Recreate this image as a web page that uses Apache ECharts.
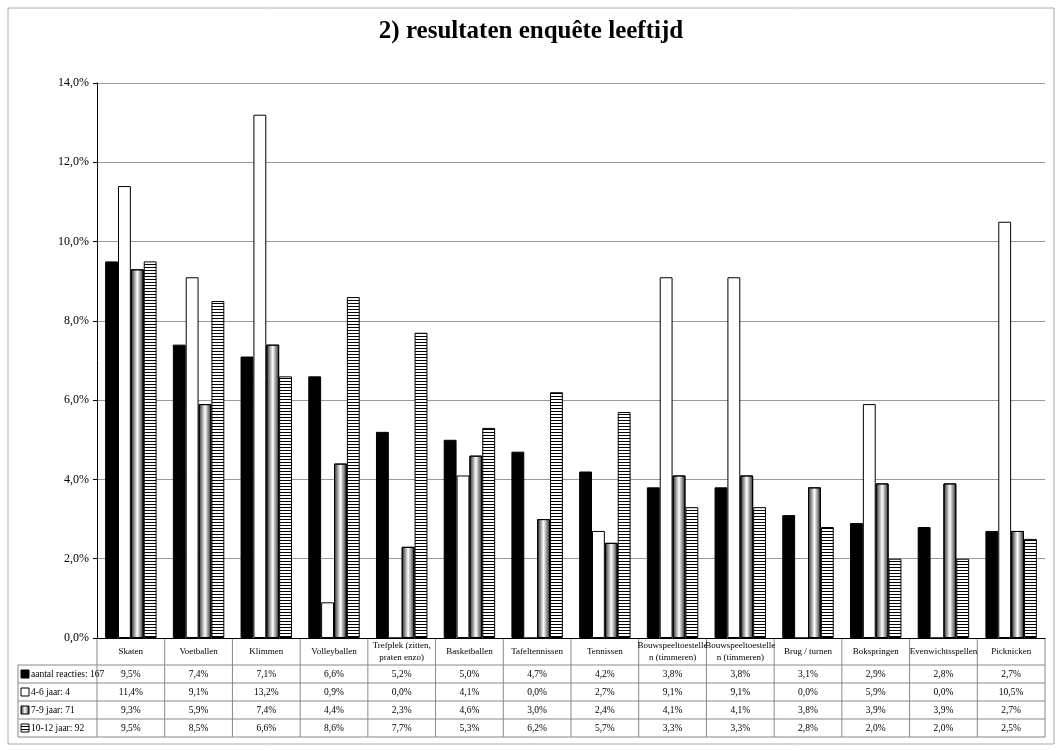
<!DOCTYPE html><html><head><meta charset="utf-8"><script src="https://cdn.jsdelivr.net/npm/echarts@6/dist/echarts.min.js"></script>
<style>body{margin:0;background:#fff}#c{width:1062px;height:751px}</style></head><body><div id="c"></div><script>
const categories=["Skaten","Voetballen","Klimmen","Volleyballen","Trefplek (zitten,\npraten enzo)","Basketballen","Tafeltennissen","Tennissen","Bouwspeeltoestelle\nn (timmeren)","Bouwspeeltoestelle\nn (timmeren)","Brug / turnen","Bokspringen","Evenwichtsspellen","Picknicken"];
const seriesNames=["aantal reacties: 167","4-6 jaar: 4","7-9 jaar: 71","10-12 jaar: 92"];
const sAll=[9.5,7.4,7.1,6.6,5.2,5.0,4.7,4.2,3.8,3.8,3.1,2.9,2.8,2.7];
const s46=[11.4,9.1,13.2,0.9,0.0,4.1,0.0,2.7,9.1,9.1,0.0,5.9,0.0,10.5];
const s79=[9.3,5.9,7.4,4.4,2.3,4.6,3.0,2.4,4.1,4.1,3.8,3.9,3.9,2.7];
const s1012=[9.5,8.5,6.6,8.6,7.7,5.3,6.2,5.7,3.3,3.3,2.8,2.0,2.0,2.5];
const yTicks={min:0,max:14,interval:2};
const data=[sAll,s46,s79,s1012];
const F='Liberation Serif';
const pc=document.createElement('canvas');pc.width=4;pc.height=3;const px=pc.getContext('2d');px.fillStyle='#fff';px.fillRect(0,0,4,3);px.fillStyle='#000';px.fillRect(0,0,4,1);
const grad={type:'linear',x:0,y:0,x2:1,y2:0,colorStops:[{offset:0,color:'#222'},{offset:0.5,color:'#fff'},{offset:1,color:'#222'}]};
const fills=['#000','#fff',grad,{image:pc,repeat:'repeat'}];
const L=97,R=1045,T=83,B=638;
const chart=echarts.init(document.getElementById('c'));
chart.setOption({animation:false,
title:{text:'2) resultaten enquête leeftijd',left:'center',top:14,textStyle:{fontFamily:F,fontSize:25,fontWeight:'bold',color:'#000'}},
grid:{left:L,right:1062-R,top:T,bottom:751-B},
xAxis:{type:'category',data:categories,axisLine:{lineStyle:{color:'#000'}},axisTick:{show:false},axisLabel:{show:false},splitLine:{show:false}},
yAxis:{type:'value',min:yTicks.min,max:yTicks.max,interval:yTicks.interval,axisLine:{show:true,lineStyle:{color:'#000'}},axisTick:{show:true,length:4,lineStyle:{color:'#000'}},splitLine:{lineStyle:{color:'#999'}},axisLabel:{fontFamily:F,fontSize:12,color:'#000',formatter:v=>v.toFixed(1).replace('.',',')+'%'}},
series:data.map((d,i)=>({type:'bar',name:seriesNames[i],data:d,barGap:'0%',barCategoryGap:'24%',itemStyle:{color:fills[i],borderColor:'#000',borderWidth:1}}))
});
const cw=(R-L)/categories.length;const g=[];const TL=18,rowH=18,catB=665;
const ln=(x1,y1,x2,y2)=>g.push({type:'line',shape:{x1,y1,x2,y2},style:{stroke:'#888',lineWidth:1}});
g.push({type:'rect',shape:{x:8,y:8,width:1046,height:736},style:{fill:'none',stroke:'#aaa',lineWidth:1}});
for(let i=0;i<=categories.length;i++){const x=L+i*cw;ln(x,B,x,catB+4*rowH);}
ln(TL,catB,TL,catB+4*rowH);
for(let r=0;r<=4;r++)ln(TL,catB+r*rowH,R,catB+r*rowH);
categories.forEach((c,i)=>{const x=chart.convertToPixel({xAxisIndex:0},i);
g.push({type:'text',x,y:(B+catB)/2,style:{text:c,font:'9px '+F,fill:'#000',align:'center',verticalAlign:'middle',lineHeight:12}});
data.forEach((d,r)=>g.push({type:'text',x,y:catB+r*rowH+rowH/2,style:{text:d[i].toFixed(1).replace('.',',')+'%',font:'9.5px '+F,fill:'#000',align:'center',verticalAlign:'middle'}}));});
seriesNames.forEach((n,r)=>{const y=catB+r*rowH+rowH/2;
g.push({type:'rect',shape:{x:TL+3,y:y-4,width:8,height:8},style:{fill:fills[r],stroke:'#000',lineWidth:1}});
g.push({type:'text',x:TL+13,y,style:{text:n,font:'9.5px '+F,fill:'#000',verticalAlign:'middle'}});});
chart.setOption({graphic:g});
</script></body></html>
